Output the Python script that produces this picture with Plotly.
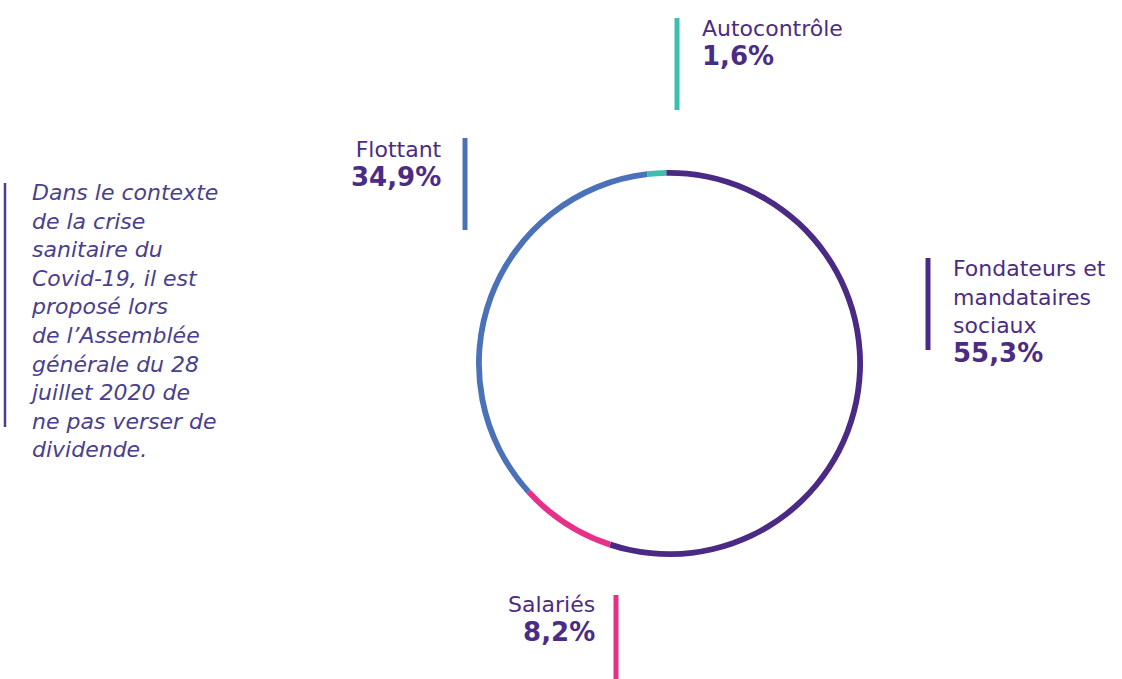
import plotly.graph_objects as go

# ---- data ----
categories = ["Autocontrôle", "Fondateurs et mandataires sociaux", "Salariés", "Flottant"]
shares = [1.6, 55.3, 8.2, 34.9]
colors = ["#3dbfae", "#4b2a86", "#e6318a", "#4b72b8"]
note_lines = ["Dans le contexte", "de la crise", "sanitaire du", "Covid-19, il est",
              "proposé lors", "de l’Assemblée", "générale du 28", "juillet 2020 de",
              "ne pas verser de", "dividende."]

W, H = 1122, 679
TXT = "#4b2c85"
NOTE = "#4a3f8e"
FONT = "DejaVu Sans"


def X(px):
    return px / W


def Y(py):
    return 1 - py / H


def pct(v):
    return f"{v:.1f}".replace(".", ",") + "%"


fig = go.Figure()
fig.add_trace(go.Pie(
    labels=categories, values=shares, sort=False, direction="clockwise",
    rotation=-6.7, hole=0.97, textinfo="none", hoverinfo="skip",
    marker=dict(colors=colors, line=dict(width=0)),
    domain=dict(x=[X(476), X(863)], y=[Y(557), Y(170)]),
    showlegend=False,
))

shapes = []
annotations = []


def bar(x, y0, y1, color, w=5):
    shapes.append(dict(type="line", xref="paper", yref="paper",
                       x0=X(x), x1=X(x), y0=Y(y0), y1=Y(y1),
                       line=dict(color=color, width=w)))


def label(lines, value, x, mid, anchor, size=22, psize=26):
    body = "<br>".join(lines)
    body += f"<br><b><span style='font-size:{psize}px'>{pct(value)}</span></b>"
    annotations.append(dict(text=body, xref="paper", yref="paper",
                            x=X(x), y=Y(mid), xanchor=anchor, yanchor="middle",
                            align=anchor, showarrow=False, borderpad=0,
                            font=dict(family=FONT, size=size, color=TXT)))


# Autocontrôle
bar(677, 18, 110, colors[0])
label([categories[0]], shares[0], 701, 44, "left")

# Flottant
bar(465, 138, 230, colors[3])
label([categories[3]], shares[3], 443, 164, "right")

# Fondateurs
bar(928, 258, 350, colors[1])
label(["Fondateurs et", "mandataires", "sociaux"], shares[1], 952, 312, "left")

# Salariés
bar(616, 595, 679, colors[2])
label([categories[2]], shares[2], 596, 619, "right")

# Note
bar(5, 183, 427, NOTE, w=2.5)
annotations.append(dict(text="<i>" + "<br>".join(note_lines) + "</i>",
                        xref="paper", yref="paper", x=X(28), y=Y(321),
                        xanchor="left", yanchor="middle", align="left",
                        showarrow=False, borderpad=0,
                        font=dict(family=FONT, size=22, color=NOTE)))

fig.update_layout(
    width=W, height=H, margin=dict(l=0, r=0, t=0, b=0),
    paper_bgcolor="white", plot_bgcolor="white",
    shapes=shapes, annotations=annotations,
)

fig.write_html("out.html")
